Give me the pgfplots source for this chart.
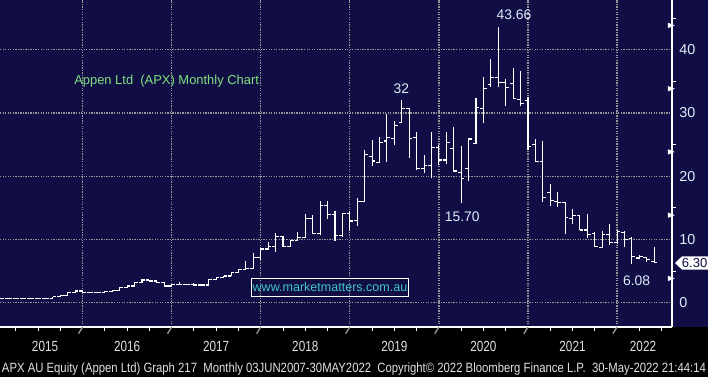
\documentclass[border=0pt]{standalone}
\usepackage{pgfplots}
\usepackage{pgfplotstable}
\pgfplotsset{compat=1.18}
\usepackage{fontspec}
\setmainfont{Liberation Sans}
\usepackage{graphicx}
\definecolor{bbnavy}{RGB}{16,14,68}
\definecolor{gridgray}{RGB}{150,150,150}
\definecolor{lbl}{RGB}{225,235,250}
\definecolor{ttlgreen}{RGB}{128,224,128}
\definecolor{wmcyan}{RGB}{64,196,200}
\definecolor{foot}{RGB}{225,225,225}

% m = month index (1 = Jan 2015)
\pgfplotstableread{
m o h l c
1 0.60 0.68 0.57 0.62
2 0.62 0.76 0.60 0.68
3 0.68 0.70 0.62 0.65
4 0.65 0.70 0.62 0.66
5 0.66 0.72 0.63 0.66
6 0.66 0.72 0.63 0.68
7 0.68 0.75 0.65 0.72
8 0.72 0.98 0.70 0.95
9 0.95 1.22 0.93 1.17
10 1.17 1.62 1.15 1.58
11 1.58 1.90 1.55 1.85
12 1.85 1.90 1.60 1.64
13 1.64 1.75 1.58 1.64
14 1.64 1.72 1.50 1.64
15 1.64 1.80 1.60 1.75
16 1.75 2.05 1.72 1.96
17 1.96 2.45 1.94 2.43
18 2.43 2.80 2.40 2.64
19 2.64 3.20 2.62 3.16
20 3.16 3.75 3.12 3.59
21 3.59 3.62 3.38 3.43
22 3.43 3.45 3.10 3.16
23 3.16 3.20 2.60 2.64
24 2.64 2.95 2.58 2.90
25 2.90 3.20 2.85 2.95
26 2.95 3.00 2.85 2.90
27 2.90 3.05 2.60 2.80
28 2.80 2.85 2.72 2.80
29 2.80 3.75 2.78 3.70
30 3.70 4.10 3.65 3.95
31 3.95 4.30 3.90 4.22
32 4.22 4.80 4.15 4.74
33 4.74 5.35 4.70 5.28
34 5.28 6.58 5.25 5.43
35 5.43 7.80 5.40 7.17
36 7.17 8.70 6.75 8.49
37 8.49 9.55 8.33 8.96
38 8.96 10.97 8.06 10.43
39 10.40 10.55 8.80 8.85
40 8.85 9.87 8.80 9.80
41 9.80 11.18 9.75 10.28
42 10.28 14.02 10.20 13.34
43 13.30 13.87 10.90 10.97
44 10.97 16.08 10.70 15.34
45 15.34 16.08 13.23 13.97
46 13.97 14.50 9.80 10.60
47 10.60 14.23 10.34 14.13
48 14.13 14.50 11.33 12.92
49 12.97 16.60 12.13 15.97
50 15.97 24.14 15.90 23.46
51 23.14 25.72 21.61 22.40
52 22.20 26.15 22.13 25.36
53 25.57 29.83 22.29 26.15
54 26.00 28.73 24.93 28.05
55 28.46 32.05 28.36 30.73
56 30.73 30.80 22.93 25.93
57 26.15 26.94 20.98 21.19
58 21.20 23.35 20.46 21.72
59 21.72 26.94 19.67 24.57
60 24.57 24.93 21.77 22.56
61 22.56 26.94 21.88 25.36
62 24.41 27.73 20.71 20.82
63 20.61 24.77 15.70 19.67
64 21.25 25.99 19.29 25.88
65 25.20 32.30 25.04 30.83
66 30.73 35.64 28.36 33.90
67 34.53 38.48 34.15 35.64
68 35.64 43.66 34.15 34.78
69 34.85 35.32 31.10 34.06
70 34.69 37.06 32.30 32.32
71 32.16 36.63 31.10 31.53
72 31.94 32.57 24.14 24.66
73 25.04 25.83 22.29 22.29
74 22.29 25.57 15.97 16.60
75 17.39 18.72 15.34 16.13
76 15.97 17.55 15.08 15.87
77 15.87 15.90 10.81 13.44
78 13.34 14.76 12.39 13.76
79 13.76 13.87 11.45 11.49
80 11.49 13.97 10.18 10.81
81 10.97 11.13 8.85 8.96
82 8.76 11.33 8.60 10.81
83 10.81 12.39 9.12 9.55
84 9.55 11.49 9.28 11.33
85 11.17 11.33 8.85 10.02
86 10.20 10.43 6.08 7.27
87 7.07 7.54 6.86 7.27
88 7.12 7.27 6.48 6.86
89 6.50 8.85 6.39 6.30
}\ohlc

\begin{document}
\begin{tikzpicture}
\fill[bbnavy] (0,0) rectangle (531pt,282.75pt);
\fill[black] (0,0) rectangle (531pt,37.5pt);
\begin{axis}[
  at={(0pt,37.5pt)}, anchor=south west,
  width=504pt, height=245.25pt, scale only axis,
  xmin=0.871, xmax=91.405,
  ymin=-3.84, ymax=47.86,
  axis background/.style={fill=bbnavy},
  axis x line*=bottom, axis y line*=right,
  axis line style={-, white, line width=0.8pt},
  xtick={12,24,36,48,60,72,84}, xticklabels={},
  ytick={0,10,20,30,40},
  minor xtick={3,6,9,15,18,21,27,30,33,39,42,45,51,54,57,63,66,69,75,78,81,87,90},
  minor ytick={5,15,25,35,45},
  major tick length=0pt, minor tick length=3pt,
  tick align=outside,
  minor tick style={white, line width=0.75pt},
  major tick style={draw=none},
  xmajorgrids, ymajorgrids,
  major grid style={gridgray, line width=1pt, dash pattern=on 1pt off 0.9pt},
  extra x ticks={6.94,18,30,42,54,66,78,87.5},
  extra x tick labels={\scalebox{0.8}[1]{2015},\scalebox{0.8}[1]{2016},\scalebox{0.8}[1]{2017},\scalebox{0.8}[1]{2018},\scalebox{0.8}[1]{2019},\scalebox{0.8}[1]{2020},\scalebox{0.8}[1]{2021},\scalebox{0.8}[1]{2022}},
  extra x tick style={grid=none, major tick length=0pt},
  xticklabel style={font=\fontsize{11}{11}\selectfont, text=foot, anchor=north, yshift=-7pt},
  /pgf/number format/assume math mode=true,
  yticklabel style={font=\fontsize{10.8}{10.8}\selectfont, text=lbl, anchor=west, xshift=2pt},
  clip=false,
]
% high-low lines
\addplot[draw=none, mark=none, forget plot,
  error bars/.cd, y dir=plus, y explicit, error mark=none,
  error bar style={draw=white, line width=0.8pt}]
  table[x=m, y=l, y error expr=\thisrow{h}-\thisrow{l}] {\ohlc};
% open ticks
\addplot[draw=none, mark=none, forget plot,
  error bars/.cd, x dir=minus, x fixed=0.44, error mark=none,
  error bar style={draw=white, line width=0.8pt}]
  table[x=m, y=o] {\ohlc};
% close ticks
\addplot[draw=none, mark=none, forget plot,
  error bars/.cd, x dir=plus, x fixed=0.44, error mark=none,
  error bar style={draw=white, line width=0.8pt}]
  table[x=m, y=c] {\ohlc};
% decorations
\pgfplotsinvokeforeach{12,24,36,48,60,72,84}{
  \draw[gridgray, line width=1pt] (axis cs:#1,-3.84) -- ++(0,-23.25pt);
}
\pgfplotsinvokeforeach{0,10,20,30,40}{
  \fill[white] (axis cs:91.405,#1) ++(0,2pt) -- ++(5.25pt,-2pt) -- ++(-5.25pt,-2pt) -- cycle;
}
\end{axis}
% last price tag
\fill[white] (506.25pt,85.5pt) -- (511.5pt,90.5pt) -- (531pt,90.5pt) -- (531pt,80.5pt) -- (511.5pt,80.5pt) -- cycle;
\node[anchor=west, inner sep=0pt, text=bbnavy, font=\fontsize{9.8}{9.8}\selectfont] at (511.2pt,85.5pt) {6.30};
% annotations
\node[text=lbl, font=\fontsize{10.4}{10.4}\selectfont, inner sep=0pt] at (385.5pt,271.5pt) {43.66};
\node[text=lbl, font=\fontsize{10.4}{10.4}\selectfont, inner sep=0pt] at (301pt,216pt) {32};
\node[text=lbl, font=\fontsize{10.4}{10.4}\selectfont, inner sep=0pt] at (346.65pt,119.85pt) {15.70};
\node[text=lbl, font=\fontsize{10.4}{10.4}\selectfont, inner sep=0pt] at (477.5pt,71.85pt) {6.08};
\node[text=ttlgreen, font=\fontsize{9.7}{9.7}\selectfont, inner sep=0pt, anchor=base west] at (55.5pt,219.4pt) {Appen Ltd\ \ (APX) Monthly Chart};
% watermark
\node[draw=white, line width=0.75pt, text=wmcyan, font=\fontsize{9.4}{9.4}\selectfont, minimum width=117.5pt, minimum height=13.3pt, inner sep=0pt] at (247.5pt,67.35pt) {www.marketmatters.com.au};
% footer
\node[text=foot, inner sep=0pt, anchor=base] at (265.5pt,3.3pt) {\resizebox{528pt}{7.3pt}{APX AU Equity (Appen Ltd) Graph 217\ \ Monthly 03JUN2007-30MAY2022\ \ Copyright\textcopyright{} 2022 Bloomberg Finance L.P.\ \ 30-May-2022 21:44:14}};
\pgfresetboundingbox
\path[use as bounding box] (0,0) rectangle (531pt,282.75pt);
\end{tikzpicture}
\end{document}
